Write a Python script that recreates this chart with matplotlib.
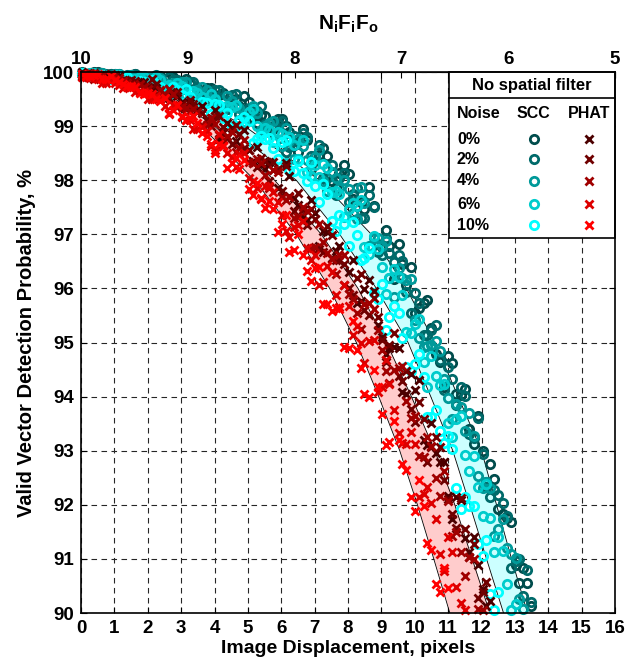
import numpy as np
import matplotlib.pyplot as plt
from matplotlib.patches import Rectangle

plt.rcParams['font.family'] = ['Liberation Sans', 'DejaVu Sans']
plt.rcParams['font.weight'] = 'bold'
plt.rcParams['mathtext.fontset'] = 'custom'
plt.rcParams['mathtext.rm'] = 'Liberation Sans:bold'
plt.rcParams['mathtext.it'] = 'Liberation Sans:bold'
plt.rcParams['mathtext.bf'] = 'Liberation Sans:bold'

# image displacement (pixels): two interleaved sampling runs, shared by every noise level
disp = [0.02, 0.27, 0.51, 0.76, 1.03, 1.26, 1.49, 1.77, 2.01, 2.24, 2.52, 2.75, 3.02, 3.26,
        3.48, 3.77, 4.01, 4.25, 4.52, 4.74, 5.03, 5.27, 5.5, 5.76, 6.02, 6.24, 6.51, 6.77,
        7.0, 7.25, 7.52, 7.74, 8.03, 8.26, 8.49, 8.77, 9.01, 9.24, 9.52, 9.75, 10.02, 10.27,
        10.5, 10.76, 11.01, 11.24, 11.52, 11.77, 12.03, 12.26, 12.49, 12.77, 13.02, 13.25, 13.48]
disp_b = [0.14, 0.39, 0.63, 0.9, 1.14, 1.38, 1.63, 1.89, 2.13, 2.38, 2.64, 2.88, 3.14, 3.37,
          3.63, 3.89, 4.13, 4.38, 4.63, 4.89, 5.15, 5.38, 5.63, 5.89, 6.13, 6.38, 6.64, 6.88,
          7.13, 7.38, 7.63, 7.89, 8.14, 8.38, 8.63, 8.89, 9.13, 9.38, 9.63, 9.89, 10.14, 10.38,
          10.63, 10.89, 11.13, 11.38, 11.64, 11.89, 12.14, 12.38, 12.63, 12.89, 13.13, 13.37]

# SCC valid detection probability (%), run a
scc_0 = [99.99, 99.95, 100.0, 99.95, 99.95, 99.91, 99.95, 99.93, 99.87, 99.82, 99.87, 99.91,
         99.76, 99.77, 99.69, 99.71, 99.50, 99.62, 99.41, 99.38, 99.44, 99.06, 99.19, 98.95,
         99.13, 98.89, 98.53, 98.74, 98.45, 98.60, 97.98, 98.13, 98.11, 97.53, 97.47, 97.53,
         96.76, 96.79, 96.82, 96.06, 95.55, 95.73, 95.27, 94.64, 94.75, 94.05, 94.15, 93.12,
         93.00, 92.76, 91.93, 91.76, 90.89, 90.84, 90.13]
scc_2 = [100.0, 99.96, 99.98, 99.96, 99.97, 99.92, 99.95, 99.90, 99.90, 99.95, 99.77, 99.86,
         99.75, 99.81, 99.72, 99.59, 99.66, 99.48, 99.58, 99.23, 99.33, 99.28, 99.04, 99.01,
         99.10, 98.62, 98.71, 98.79, 98.35, 98.05, 98.28, 98.05, 97.59, 97.85, 97.30, 97.50,
         96.62, 96.65, 96.61, 95.93, 95.91, 95.14, 95.24, 94.68, 94.54, 93.84, 94.02, 93.23,
         92.94, 92.14, 92.18, 91.80, 90.96, 90.32, 90.21]
scc_4 = [99.95, 99.99, 99.97, 99.93, 99.96, 99.92, 99.94, 99.87, 99.90, 99.90, 99.79, 99.79,
         99.81, 99.64, 99.66, 99.67, 99.47, 99.30, 99.46, 99.33, 99.12, 99.24, 99.00, 99.10,
         98.64, 98.73, 98.76, 98.38, 98.43, 97.98, 98.15, 97.85, 97.84, 97.29, 97.57, 96.93,
         96.79, 96.19, 96.38, 96.15, 95.41, 94.92, 94.96, 94.85, 93.98, 93.87, 93.37, 93.28,
         92.31, 92.31, 91.55, 91.20, 91.02, 90.08]
scc_6 = [99.97, 99.99, 99.94, 99.91, 99.95, 99.92, 99.88, 99.90, 99.83, 99.91, 99.74, 99.75,
         99.75, 99.61, 99.62, 99.46, 99.51, 99.35, 99.36, 99.12, 99.27, 99.01, 98.97, 98.70,
         98.86, 98.79, 98.40, 98.15, 98.28, 98.30, 97.78, 97.75, 97.47, 97.53, 96.76, 96.96,
         96.40, 96.20, 96.22, 95.20, 95.34, 94.64, 94.75, 94.22, 93.52, 93.58, 92.93, 92.90,
         91.79, 91.76, 91.41, 90.53, 90.17]
scc_10 = [99.98, 99.92, 99.93, 99.93, 99.89, 99.89, 99.82, 99.84, 99.78, 99.78, 99.65, 99.72,
          99.58, 99.54, 99.38, 99.42, 99.41, 99.15, 99.01, 99.09, 99.10, 98.77, 98.76, 98.60,
          98.70, 98.18, 98.35, 97.98, 97.90, 97.93, 97.25, 97.35, 96.79, 96.99, 96.57, 95.92,
          96.08, 95.48, 95.55, 94.54, 94.61, 94.36, 93.63, 93.37, 93.28, 92.31, 92.14, 91.97,
          91.06, 90.35, 90.38]

# SCC, run b
scc_0b = [99.96, 100.0, 99.93, 99.96, 99.97, 99.92, 99.96, 99.88, 99.90, 99.93, 99.72, 99.85,
          99.88, 99.65, 99.65, 99.71, 99.57, 99.31, 99.50, 99.56, 99.15, 99.21, 98.89, 99.13,
          99.00, 98.65, 98.95, 98.21, 98.46, 98.45, 97.88, 98.29, 97.65, 97.60, 97.88, 96.83,
          97.08, 96.18, 96.45, 96.40, 95.63, 95.78, 94.78, 94.18, 94.63, 94.03, 93.40, 93.65,
          92.43, 92.48, 91.83, 91.68, 90.55, 90.55]
scc_2b = [99.95, 99.96, 99.99, 99.96, 99.91, 99.95, 99.96, 99.89, 99.91, 99.76, 99.91, 99.85,
          99.73, 99.82, 99.56, 99.64, 99.66, 99.32, 99.59, 99.25, 99.24, 99.37, 98.93, 99.06,
          98.53, 98.81, 98.87, 98.44, 98.66, 98.05, 97.73, 98.14, 97.75, 97.30, 97.73, 96.68,
          96.93, 96.48, 96.50, 95.55, 95.73, 95.13, 95.33, 94.13, 94.33, 94.18, 93.30, 93.60,
          92.33, 92.28, 92.03, 90.83, 91.00, 90.80]
scc_4b = [99.93, 99.97, 99.98, 99.92, 99.97, 99.91, 99.91, 99.93, 99.79, 99.89, 99.71, 99.80,
          99.81, 99.65, 99.72, 99.51, 99.27, 99.55, 99.36, 99.17, 99.37, 98.93, 99.06, 98.87,
          98.96, 98.39, 98.63, 98.32, 98.56, 97.81, 98.05, 98.01, 97.40, 97.88, 96.78, 96.93,
          96.88, 95.85, 96.20, 96.18, 95.08, 94.93, 95.03, 94.33, 93.58, 93.80, 93.70, 92.53,
          92.43, 91.43, 91.73, 91.10, 90.25]
scc_6b = [99.96, 99.99, 99.93, 99.90, 99.94, 99.91, 99.87, 99.90, 99.76, 99.85, 99.76, 99.79,
          99.58, 99.65, 99.53, 99.59, 99.22, 99.38, 99.39, 99.08, 99.31, 98.84, 98.92, 98.90,
          98.32, 98.66, 98.74, 98.07, 98.06, 98.22, 97.80, 97.32, 97.58, 97.63, 96.63, 96.73,
          95.90, 96.35, 95.88, 95.18, 95.43, 94.18, 94.38, 94.23, 93.25, 93.65, 92.63, 92.33,
          92.38, 91.13, 91.15, 90.05]
scc_10b = [99.92, 99.94, 99.94, 99.87, 99.90, 99.90, 99.82, 99.81, 99.86, 99.73, 99.58, 99.67,
           99.69, 99.43, 99.44, 99.23, 99.39, 99.24, 99.00, 99.17, 98.68, 98.81, 98.78, 98.40,
           98.74, 98.17, 98.13, 98.33, 97.59, 97.74, 97.06, 97.20, 97.23, 96.53, 96.75, 95.80,
           95.23, 95.68, 95.08, 94.48, 94.78, 93.63, 93.75, 93.15, 93.03, 91.93, 91.98, 91.28,
           91.35, 90.05]

# PHAT valid detection probability (%), run a
phat_0 = [100.0, 99.94, 99.91, 99.94, 99.93, 99.85, 99.79, 99.81, 99.73, 99.70, 99.55, 99.63,
          99.44, 99.43, 99.30, 99.11, 99.30, 98.90, 98.97, 98.59, 98.56, 98.61, 98.20, 98.19,
          97.70, 98.08, 97.54, 97.26, 97.40, 97.06, 96.56, 96.79, 96.31, 95.73, 95.99, 95.96,
          95.10, 94.90, 94.89, 94.05, 94.12, 93.20, 93.52, 92.80, 92.16, 92.15, 91.38, 91.41,
          90.44, 90.23]
phat_2 = [99.96, 99.97, 99.94, 99.88, 99.94, 99.84, 99.85, 99.76, 99.73, 99.77, 99.58, 99.58,
          99.40, 99.49, 99.27, 99.14, 99.18, 98.98, 98.67, 98.85, 98.56, 98.25, 98.36, 98.33,
          97.80, 97.70, 97.76, 97.18, 97.29, 96.68, 96.99, 96.53, 96.01, 96.19, 95.61, 95.82,
          95.04, 94.96, 94.39, 94.47, 93.54, 93.58, 93.06, 93.06, 92.10, 91.57, 91.56, 91.27,
          90.38]
phat_4 = [99.92, 99.98, 99.91, 99.88, 99.88, 99.83, 99.76, 99.78, 99.68, 99.54, 99.60, 99.60,
          99.35, 99.28, 99.26, 99.03, 99.04, 98.65, 98.89, 98.60, 98.33, 98.40, 98.09, 98.18,
          97.69, 97.69, 97.32, 97.43, 96.76, 96.86, 96.55, 96.62, 95.89, 95.55, 95.72, 95.62,
          94.86, 94.25, 94.53, 93.92, 93.64, 92.88, 93.08, 92.16, 92.07, 91.50, 90.69, 91.00,
          90.05]
phat_6 = [99.90, 99.89, 99.88, 99.80, 99.80, 99.71, 99.72, 99.63, 99.50, 99.55, 99.37, 99.39,
          99.16, 99.12, 98.94, 98.91, 98.55, 98.64, 98.43, 98.48, 98.05, 97.86, 97.89, 97.79,
          97.35, 96.95, 97.18, 96.74, 96.61, 96.11, 96.30, 95.65, 95.68, 95.30, 94.62, 95.05,
          94.17, 94.24, 93.32, 93.12, 93.12, 92.20, 92.03, 91.10, 91.41, 90.48, 90.06]
phat_10 = [99.97, 99.93, 99.96, 99.87, 99.86, 99.77, 99.75, 99.62, 99.62, 99.50, 99.52, 99.29,
           99.18, 99.15, 99.06, 98.81, 98.50, 98.63, 98.31, 98.20, 97.84, 97.94, 97.48, 97.46,
           97.20, 96.68, 97.00, 96.33, 96.38, 95.72, 95.59, 95.62, 94.90, 94.86, 94.05, 94.49,
           93.68, 93.16, 93.20, 92.64, 91.88, 91.98, 91.16, 90.39, 90.46]

# PHAT, run b
phat_0b = [99.96, 99.92, 99.95, 99.86, 99.92, 99.84, 99.79, 99.82, 99.68, 99.53, 99.69, 99.56,
           99.35, 99.35, 99.37, 99.09, 98.76, 99.06, 98.73, 98.92, 98.36, 98.29, 98.34, 97.85,
           98.31, 97.68, 97.34, 97.63, 96.78, 97.04, 96.69, 96.07, 96.52, 95.76, 96.15, 95.33,
           94.79, 94.92, 94.09, 94.42, 94.30, 93.10, 92.95, 92.80, 91.73, 92.08, 91.13, 90.88,
           90.13]
phat_2b = [99.92, 99.98, 99.92, 99.96, 99.85, 99.83, 99.83, 99.73, 99.87, 99.65, 99.52, 99.64,
           99.32, 99.40, 99.25, 99.00, 99.19, 98.78, 99.02, 98.59, 98.31, 98.41, 97.98, 98.20,
           98.26, 97.43, 97.45, 97.46, 96.73, 97.15, 96.52, 96.46, 95.87, 96.26, 95.50, 95.48,
           94.64, 95.17, 94.29, 93.77, 93.90, 92.80, 93.25, 92.45, 91.83, 92.13, 91.03, 90.28,
           90.58]
phat_4b = [99.95, 99.88, 99.94, 99.86, 99.89, 99.80, 99.74, 99.73, 99.54, 99.67, 99.68, 99.36,
           99.34, 99.31, 99.02, 99.15, 98.83, 98.82, 98.53, 98.75, 98.32, 98.31, 97.85, 98.16,
           97.64, 97.30, 97.51, 96.74, 97.20, 96.65, 96.27, 96.62, 95.81, 95.25, 95.73, 95.24,
           94.47, 94.49, 94.57, 93.60, 92.90, 93.25, 92.50, 92.63, 91.43, 91.13, 91.03, 90.08]
phat_6b = [99.90, 99.90, 99.80, 99.85, 99.76, 99.73, 99.64, 99.64, 99.50, 99.50, 99.23, 99.39,
           99.12, 98.95, 98.98, 98.64, 98.86, 98.50, 98.24, 98.51, 97.99, 97.65, 97.89, 97.59,
           97.07, 97.14, 97.24, 96.53, 96.07, 96.42, 95.88, 96.06, 95.13, 94.99, 95.02, 94.09,
           94.67, 93.75, 93.15, 93.35, 92.15, 92.33, 91.73, 90.78, 91.13, 90.18]
phat_10b = [99.93, 99.95, 99.87, 99.92, 99.82, 99.74, 99.73, 99.59, 99.60, 99.47, 99.24, 99.39,
            99.12, 99.18, 98.88, 98.67, 98.67, 98.22, 98.41, 98.37, 97.73, 97.67, 97.61, 97.05,
            97.36, 96.71, 96.62, 96.13, 96.39, 95.71, 95.64, 94.92, 95.39, 94.52, 93.99, 94.17,
            93.10, 93.55, 92.75, 92.15, 92.45, 91.30, 90.53, 90.83]

noise_labels = ['0%', '2%', '4%', '6%', '10%']
scc_series = [(scc_0, scc_0b), (scc_2, scc_2b), (scc_4, scc_4b), (scc_6, scc_6b),
              (scc_10, scc_10b)]
phat_series = [(phat_0, phat_0b), (phat_2, phat_2b), (phat_4, phat_4b), (phat_6, phat_6b),
               (phat_10, phat_10b)]
scc_colors = ['#004c4c', '#006a6a', '#009999', '#00cccc', '#00ffff']
phat_colors = ['#4c0000', '#700000', '#a00000', '#dd0000', '#ff0000']

# shaded prediction bands (x position of each edge at given probability)
band_y = [100, 99.9, 99.75, 99.5, 99, 98, 97, 96, 95, 94, 93, 92, 91, 90]
phat_lo = [0, 1.15, 1.8, 2.55, 3.6, 5.2, 6.45, 7.45, 8.25, 8.92, 9.55, 10.08, 10.57, 11.05]
phat_hi = [0, 1.28, 2.0, 2.83, 4.0, 5.8, 7.2, 8.3, 9.15, 9.9, 10.6, 11.2, 11.72, 12.25]
scc_lo = [0, 1.4, 2.2, 3.1, 4.4, 6.45, 7.75, 8.85, 9.8, 10.48, 11.14, 11.65, 12.15, 12.66]
scc_hi = [0, 1.55, 2.45, 3.45, 4.9, 7.15, 8.7, 9.75, 10.6, 11.3, 12.0, 12.45, 12.9, 13.38]

fig = plt.figure(figsize=(6.32, 6.62), dpi=100)
ax = fig.add_axes([0.1282, 0.0740, 0.8449, 0.8172])

ax.set_xlim(0, 16)
ax.set_ylim(90, 100)
ax.set_xticks(range(0, 17))
ax.set_yticks(range(90, 101))
ax.set_axisbelow(True)
ax.grid(True, color='0.15', lw=0.8, ls=(0, (5, 4)))

# bands
ax.fill_betweenx(band_y, phat_lo, phat_hi, color='#ffcccc', lw=0, zorder=1)
ax.fill_betweenx(band_y, scc_lo, scc_hi, color='#ccffff', lw=0, zorder=1)
for edge in [phat_lo, phat_hi, scc_lo, scc_hi]:
    ax.plot(edge, band_y, color='k', lw=0.6, zorder=1.5)

# scatter data
for (ya, yb), c in zip(scc_series, scc_colors):
    ax.plot(disp[:len(ya)] + disp_b[:len(yb)], ya + yb, ls='none', marker='o', ms=6,
            mew=2.0, mfc='none', mec=c, clip_on=False, zorder=3)
for (ya, yb), c in zip(phat_series, phat_colors):
    ax.plot(disp[:len(ya)] + disp_b[:len(yb)], ya + yb, ls='none', marker='x', ms=6,
            mew=2.0, color=c, clip_on=False, zorder=4)

ax.tick_params(direction='in', length=4, width=0.8, top=True, right=True,
               labelsize=13.5, pad=5)
for s in ax.spines.values():
    s.set_linewidth(1.2)
    s.set_zorder(12)

ax.set_xlabel('Image Displacement, pixels', fontsize=14, fontweight='bold', labelpad=2)
ax.set_ylabel('Valid Vector Detection Probability, %', fontsize=14.5, fontweight='bold',
              labelpad=5)

# top axis: N_I F_I F_O for a 32 px window with N_I = 10
secax = ax.secondary_xaxis('top', functions=(lambda x: 10 * (1 - x / 32.0),
                                              lambda n: 32.0 * (1 - n / 10.0)))
secax.set_xticks([10, 9, 8, 7, 6, 5])
secax.tick_params(direction='in', length=4, width=0.8, labelsize=13.5, pad=3)
secax.set_xlabel(r'$\mathbf{N_iF_iF_o}$', fontsize=15, labelpad=15)

# legend table
lx0, ly0 = 0.689, 0.693
ax.add_patch(Rectangle((lx0, ly0), 1 - lx0, 1 - ly0, transform=ax.transAxes,
                       facecolor='white', edgecolor='k', lw=1.2, zorder=10, clip_on=False))
ax.plot([lx0, 1.0], [0.952, 0.952], transform=ax.transAxes, color='k', lw=1.2,
        zorder=11, clip_on=False)
ax.text(0.845, 0.975, 'No spatial filter', transform=ax.transAxes, ha='center',
        va='center', fontsize=12, fontweight='bold', zorder=11)
ax.text(0.704, 0.924, 'Noise', transform=ax.transAxes, ha='left', va='center',
        fontsize=11.5, fontweight='bold', zorder=11)
ax.text(0.848, 0.924, 'SCC', transform=ax.transAxes, ha='center', va='center',
        fontsize=11.5, fontweight='bold', zorder=11)
ax.text(0.951, 0.924, 'PHAT', transform=ax.transAxes, ha='center', va='center',
        fontsize=11.5, fontweight='bold', zorder=11)
row_y = [0.876, 0.839, 0.799, 0.756, 0.717]
for ry, lab, cs, cp in zip(row_y, noise_labels, scc_colors, phat_colors):
    ax.text(0.704, ry, lab, transform=ax.transAxes, ha='left', va='center',
            fontsize=11.5, fontweight='bold', zorder=11)
    ax.plot([0.848], [ry], transform=ax.transAxes, ls='none', marker='o', ms=6,
            mew=2.0, mfc='none', mec=cs, zorder=11, clip_on=False)
    ax.plot([0.951], [ry], transform=ax.transAxes, ls='none', marker='x', ms=6,
            mew=2.0, color=cp, zorder=11, clip_on=False)

fig.savefig('out.png', dpi=100)
